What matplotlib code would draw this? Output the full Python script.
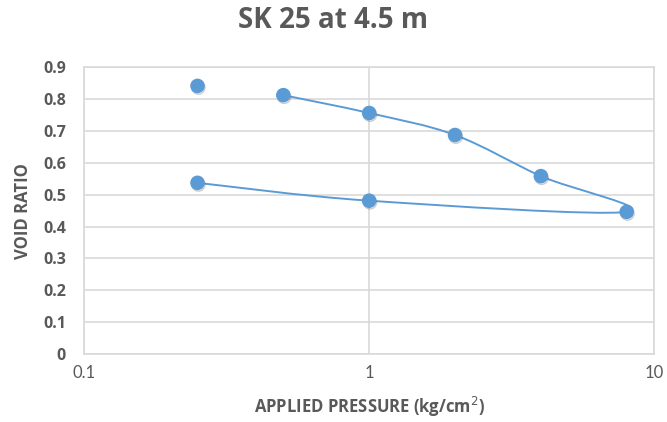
import numpy as np
import matplotlib.pyplot as plt
from matplotlib.path import Path
from matplotlib.patches import PathPatch
import matplotlib.patheffects as pe

# consolidation curve, SK 25 at 4.5 m
pressure = [0.5, 1, 2, 4, 8, 1, 0.25]
void_ratio = [0.812, 0.756, 0.687, 0.558, 0.446, 0.481, 0.537]
seat_pressure = [0.25]
seat_void = [0.841]

blue = '#5B9BD5'
grey = '#595959'
plt.rcParams['font.family'] = ['Lato', 'DejaVu Sans']
bold_font = ['Open Sans', 'DejaVu Sans']

fig = plt.figure(figsize=(6.67, 4.22), dpi=100)
ax = fig.add_axes([0.126, 0.161, 0.855, 0.68])
ax.set_xscale('log')
ax.set_xlim(0.1, 10)
ax.set_ylim(0, 0.9)

# smooth line like Excel (catmull-rom in log-x space)
lx = np.log10(pressure)
ly = np.array(void_ratio)
n = len(lx)
verts = [(lx[0], ly[0])]
codes = [Path.MOVETO]
for i in range(n - 1):
    p0 = i - 1 if i > 0 else i
    p3 = i + 2 if i + 2 < n else i + 1
    c1 = (lx[i] + (lx[i + 1] - lx[p0]) / 6, ly[i] + (ly[i + 1] - ly[p0]) / 6)
    c2 = (lx[i + 1] - (lx[p3] - lx[i]) / 6, ly[i + 1] - (ly[p3] - ly[i]) / 6)
    verts += [c1, c2, (lx[i + 1], ly[i + 1])]
    codes += [Path.CURVE4] * 3
verts = [(10 ** vx, vy) for vx, vy in verts]
ax.add_patch(PathPatch(Path(verts, codes), fill=False, edgecolor=blue, lw=1.4, zorder=3))

shadow = [pe.SimpleLineShadow(offset=(0.6, -1.2), shadow_color='#555555', alpha=0.3), pe.Normal()]
ax.plot(pressure, void_ratio, 'o', color=blue, ms=9.5, mec=blue, zorder=4, path_effects=shadow)
ax.plot(seat_pressure, seat_void, 'o', color=blue, ms=9.5, mec=blue, zorder=4, path_effects=shadow)

ax.set_yticks(np.arange(0, 0.91, 0.1))
ax.set_yticklabels(['0'] + ['%.1f' % v for v in np.arange(0.1, 0.91, 0.1)])
ax.set_xticks([0.1, 1, 10])
ax.set_xticklabels(['0.1', '1', '10'])
ax.minorticks_off()
ax.tick_params(axis='y', length=0, pad=13)
ax.tick_params(axis='x', length=0, pad=8)
for lab in ax.get_yticklabels():
    lab.set_family(bold_font)
    lab.set_fontweight('bold')
    lab.set_fontsize(11.5)
    lab.set_color(grey)
for lab in ax.get_xticklabels():
    lab.set_fontsize(12)
    lab.set_color(grey)

ax.grid(True, color='#D9D9D9', lw=1.2)
for s in ax.spines.values():
    s.set_color('#D9D9D9')
    s.set_linewidth(1.2)

ax.set_xlabel('APPLIED PRESSURE (kg/cm$^2$)', family=bold_font, fontsize=12,
              fontweight='bold', color=grey, labelpad=10)
ax.set_ylabel('VOID RATIO', family=bold_font, fontsize=12, fontweight='bold',
              color=grey, labelpad=8)
fig.suptitle('SK 25 at 4.5 m', family=bold_font, fontsize=20, fontweight='bold',
             color=grey, y=0.985)

fig.savefig('out.png', dpi=100)
